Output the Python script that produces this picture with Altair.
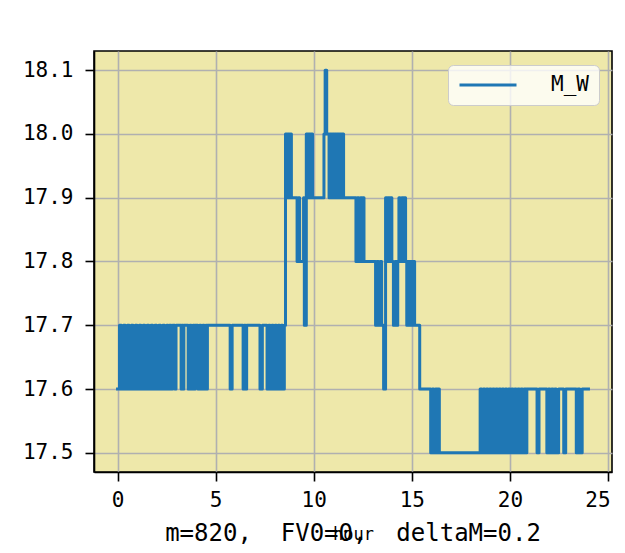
import altair as alt
import pandas as pd

# change points of the step series (hour, value)
hours = [
    0.00, 0.10, 0.20, 0.30, 0.40, 0.50, 0.60, 0.70, 0.80, 0.90,
    1.00, 1.10, 1.20, 1.30, 1.40, 1.50, 1.60, 1.70, 1.80, 1.90,
    2.00, 2.10, 2.20, 2.30, 2.40, 2.50, 2.58, 2.64, 2.74, 2.80,
    2.92, 2.98, 3.24, 3.28, 3.34, 3.38, 3.60, 3.68, 3.76, 3.84,
    3.92, 3.96, 4.10, 4.18, 4.26, 4.34, 4.42, 4.50, 4.54, 4.58,
    5.74, 5.84, 6.40, 6.46, 6.52, 6.58, 7.26, 7.38, 7.62, 7.70,
    7.78, 7.86, 7.94, 8.02, 8.10, 8.18, 8.26, 8.34, 8.42, 8.50,
    8.56, 8.62, 8.68, 8.76, 8.82, 8.86, 9.15, 9.22, 9.28, 9.48,
    9.52, 9.62, 9.68, 9.74, 9.82, 9.88, 9.94, 10.52, 10.58, 10.66,
    10.78, 10.84, 10.90, 10.96, 11.02, 11.08, 11.14, 11.20, 11.26, 11.32,
    11.40, 11.46, 11.52, 12.15, 12.22, 12.30, 12.38, 12.46, 12.52, 12.56,
    13.15, 13.22, 13.30, 13.38, 13.46, 13.56, 13.66, 13.72, 13.78, 13.86,
    13.92, 13.98, 14.06, 14.14, 14.22, 14.28, 14.34, 14.40, 14.48, 14.56,
    14.62, 14.68, 14.74, 14.80, 14.88, 14.94, 15.02, 15.08, 15.14, 15.40,
    15.96, 16.04, 16.12, 16.20, 16.28, 16.34, 16.40, 18.48, 18.56, 18.64,
    18.72, 18.80, 18.88, 18.96, 19.04, 19.12, 19.20, 19.28, 19.36, 19.44,
    19.52, 19.60, 19.68, 19.76, 19.84, 19.92, 20.00, 20.08, 20.16, 20.24,
    20.32, 20.40, 20.48, 20.56, 20.64, 20.72, 20.80, 20.86, 21.38, 21.48,
    21.88, 21.96, 22.04, 22.12, 22.20, 22.28, 22.36, 22.48, 22.74, 22.84,
    23.38, 23.46, 23.56, 23.68, 24.00,
]
m_w = [
    17.6, 17.7, 17.6, 17.7, 17.6, 17.7, 17.6, 17.7, 17.6, 17.7,
    17.6, 17.7, 17.6, 17.7, 17.6, 17.7, 17.6, 17.7, 17.6, 17.7,
    17.6, 17.7, 17.6, 17.7, 17.6, 17.7, 17.6, 17.7, 17.6, 17.7,
    17.6, 17.7, 17.6, 17.7, 17.6, 17.7, 17.6, 17.7, 17.6, 17.7,
    17.6, 17.7, 17.6, 17.7, 17.6, 17.7, 17.6, 17.7, 17.6, 17.7,
    17.6, 17.7, 17.6, 17.7, 17.6, 17.7, 17.6, 17.7, 17.6, 17.7,
    17.6, 17.7, 17.6, 17.7, 17.6, 17.7, 17.6, 17.7, 17.6, 17.7,
    18.0, 17.9, 18.0, 17.9, 18.0, 17.9, 17.8, 17.9, 17.8, 17.9,
    17.7, 18.0, 17.9, 18.0, 17.9, 18.0, 17.9, 18.0, 18.1, 18.0,
    17.9, 18.0, 17.9, 18.0, 17.9, 18.0, 17.9, 18.0, 17.9, 18.0,
    17.9, 18.0, 17.9, 17.8, 17.9, 17.8, 17.9, 17.8, 17.9, 17.8,
    17.7, 17.8, 17.7, 17.8, 17.7, 17.6, 17.9, 17.8, 17.9, 17.8,
    17.9, 17.8, 17.7, 17.8, 17.7, 17.8, 17.9, 17.8, 17.9, 17.8,
    17.9, 17.8, 17.7, 17.8, 17.7, 17.8, 17.7, 17.8, 17.7, 17.6,
    17.5, 17.6, 17.5, 17.6, 17.5, 17.6, 17.5, 17.6, 17.5, 17.6,
    17.5, 17.6, 17.5, 17.6, 17.5, 17.6, 17.5, 17.6, 17.5, 17.6,
    17.5, 17.6, 17.5, 17.6, 17.5, 17.6, 17.5, 17.6, 17.5, 17.6,
    17.5, 17.6, 17.5, 17.6, 17.5, 17.6, 17.5, 17.6, 17.5, 17.6,
    17.5, 17.6, 17.5, 17.6, 17.5, 17.6, 17.5, 17.6, 17.5, 17.6,
    17.5, 17.6, 17.5, 17.6, 17.6,
]
series_name = "M_W"
x_ticks = [0, 5, 10, 15, 20, 25]
y_ticks = [17.5, 17.6, 17.7, 17.8, 17.9, 18.0, 18.1]
x_title = "hour"
chart_title = "m=820,\u00a0\u00a0FV0=0,\u00a0\u00a0deltaM=0.2"

df = pd.DataFrame({"hour": hours, "M_W": m_w, "series": [series_name] * len(hours)})

FONT = "DejaVu Sans Mono"

chart = (
    alt.Chart(df)
    .mark_line(interpolate="step-after", strokeWidth=3, strokeJoin="round", strokeCap="square")
    .encode(
        x=alt.X(
            "hour:Q",
            scale=alt.Scale(domain=[-1.2, 25.2], nice=False, zero=False),
            axis=alt.Axis(values=x_ticks, format="d", title=x_title, labelPadding=8,
                          labelFlush=6, labelFlushOffset=2,
                          titlePadding=16, titleFontSize=17, titleFontWeight="normal"),
        ),
        y=alt.Y(
            "M_W:Q",
            scale=alt.Scale(domain=[17.47, 18.13], nice=False, zero=False),
            axis=alt.Axis(values=y_ticks, format=".1f", title=None, labelPadding=12),
        ),
        color=alt.Color(
            "series:N",
            scale=alt.Scale(range=["#1f77b4"]),
            legend=alt.Legend(title=None, orient="none", legendX=354, legendY=14),
        ),
    )
    .properties(
        width=518,
        height=421,
        autosize=alt.AutoSizeParams(type="none"),
        padding={"left": 86, "top": 43, "right": 5, "bottom": 72},
        background="white",
        title=alt.TitleParams(
            text=chart_title, orient="bottom", anchor="middle", font=FONT,
            fontSize=24, fontWeight="normal", color="black", offset=-20,
        ),
    )
    .configure_view(fill="#eee8aa", stroke="black", strokeWidth=1.6)
    .configure_axis(
        grid=True, gridColor="#b0b0b0", gridWidth=1.6,
        domainColor="black", domainWidth=1.6,
        tickColor="black", tickWidth=1.6, tickSize=9,
        labelFont=FONT, labelFontSize=21, labelColor="black",
        titleFont=FONT, titleColor="black",
    )
    .configure_legend(
        fillColor="rgba(255,255,255,0.8)", strokeColor="#cccccc", cornerRadius=5,
        padding=10, symbolType="stroke", symbolSize=3249, symbolStrokeWidth=3,
        clipHeight=20,
        labelFont=FONT, labelFontSize=21, labelColor="black", labelOffset=33,
    )
)

chart.save("out.html", embed_options={"renderer": "svg", "actions": False})
